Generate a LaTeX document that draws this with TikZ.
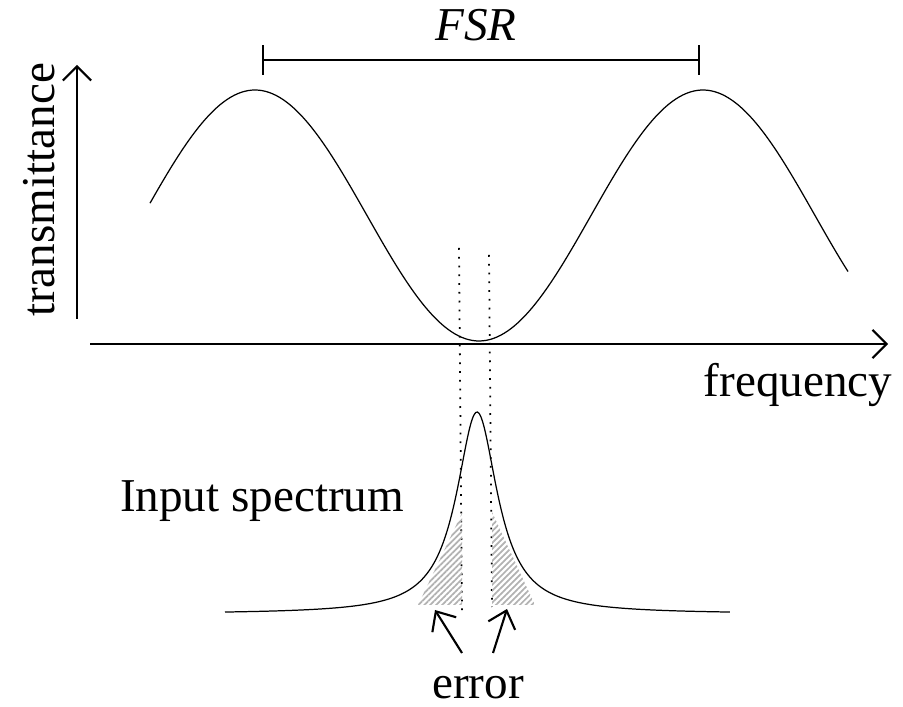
\documentclass[tikz,border=0pt]{standalone}
\usepackage{fontspec}
\setmainfont{Liberation Serif}
\usetikzlibrary{arrows.meta, patterns.meta}

\begin{document}
\begin{tikzpicture}[
    x=0.01cm, y=-0.01cm,
    every node/.style={font=\fontsize{13.4}{16}\selectfont, inner sep=0pt},
    axis/.style={line width=0.6pt, -{Straight Barb[length=4pt, width=8pt]}},
    curve/.style={line width=0.35pt},
    guide/.style={dotted, line width=0.5pt},
    errarea/.style={draw=none, pattern={Lines[angle=45, distance=1.2pt, line width=0.5pt]},
                    pattern color=gray!60},
    pointer/.style={line width=0.6pt, -{Straight Barb[length=4.5pt, width=8pt]}},
]
\useasboundingbox (0,0) rectangle (903,707);

% Axes
\coordinate (yaxisbot) at (77,319);
\coordinate (yaxistop) at (77,65);
\coordinate (xaxisl) at (90,344);
\coordinate (xaxisr) at (888,344);
\draw[axis] (yaxisbot) -- (yaxistop);
\draw[axis] (xaxisl) -- (xaxisr);
\node[rotate=90] (ylabel) at (39,190) {transmittance};
\node (xlabel) at (798,385) {frequency};

% Free spectral range
\coordinate (fsrl) at (262,60);
\coordinate (fsrr) at (700,60);
\draw[line width=0.6pt, {Bar[width=8.5pt]}-{Bar[width=8.5pt]}] (fsrl) -- (fsrr);
\node (fsr) at (476,25) {\itshape FSR};

% Transmittance of the filter
\draw[curve] plot[domain=150:848, samples=200, smooth]
    (\x, {215.5-125.5*cos(0.803571*(\x-255))});

% Filter edges
\coordinate (guidelt) at (459,248);
\coordinate (guidelb) at (462,614);
\coordinate (guidert) at (489,255);
\coordinate (guiderb) at (492,607);
\draw[guide] (guidelt) -- (guidelb);
\draw[guide] (guidert) -- (guiderb);

% Error regions
\fill[errarea] (418,605) -- (462,513) -- (462,605) -- cycle;
\fill[errarea] (492,512) -- (492,605) -- (535,605) -- cycle;

% Input spectrum
\draw[curve] plot[domain=-10.08:10.12, samples=301, smooth]
    ({477+25*\x}, {614-202/(1+\x*\x)});
\node (inlabel) at (262,501) {Input spectrum};

% Error pointers
\node (errlabel) at (478,688) {error};
\coordinate (errl) at (462,653);
\coordinate (errr) at (493,653);
\coordinate (tipl) at (435,610);
\coordinate (tipr) at (507,609);
\draw[pointer] (errl) -- (tipl);
\draw[pointer] (errr) -- (tipr);

\end{tikzpicture}
\end{document}
